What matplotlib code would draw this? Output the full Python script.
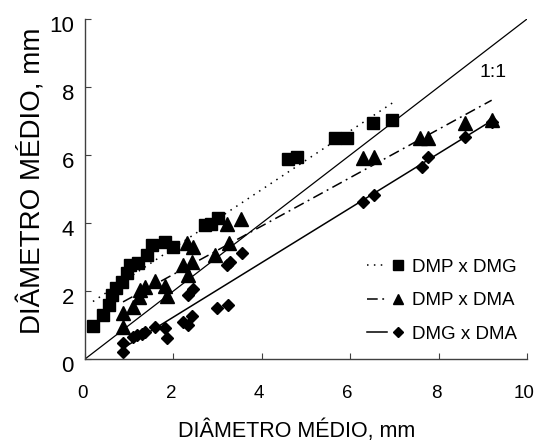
import numpy as np
import matplotlib
matplotlib.use("Agg")
import matplotlib.pyplot as plt
import matplotlib.transforms as mtransforms
from matplotlib.legend_handler import HandlerTuple

plt.rcParams['font.family'] = ['Liberation Sans', 'DejaVu Sans']

# DMP x DMG (squares)
dmg_x = [0.18, 0.41, 0.55, 0.60, 0.70, 0.83, 0.95, 1.02, 1.20, 1.40, 1.52, 1.81, 2.00,
         2.71, 2.85, 3.00, 4.60, 4.80, 5.66, 5.93, 6.52, 6.95]
dmg_y = [0.97, 1.30, 1.60, 1.88, 2.10, 2.27, 2.52, 2.77, 2.82, 3.06, 3.35, 3.44, 3.30,
         3.94, 3.98, 4.14, 5.88, 5.95, 6.50, 6.50, 6.94, 7.03]

# DMP x DMA (triangles)
dma_x = [0.86, 0.86, 1.09, 1.22, 1.24, 1.36, 1.58, 1.80, 1.86, 2.22, 2.30, 2.33, 2.42,
         2.44, 2.94, 3.21, 3.26, 3.52, 6.29, 6.54, 7.58, 7.76, 8.60, 9.20]
dma_y = [0.95, 1.35, 1.53, 1.83, 2.03, 2.12, 2.30, 2.15, 1.86, 2.76, 3.40, 2.47, 2.85,
         3.30, 3.06, 3.97, 3.41, 4.12, 5.91, 5.95, 6.50, 6.50, 6.94, 7.03]

# DMG x DMA (diamonds)
gda_x = [0.86, 0.86, 1.09, 1.17, 1.29, 1.36, 1.58, 1.81, 1.86, 2.22, 2.33, 2.42, 2.33,
         2.44, 2.99, 3.24, 3.21, 3.28, 3.55, 6.29, 6.54, 7.62, 7.76, 8.60, 9.20]
gda_y = [0.20, 0.47, 0.65, 0.70, 0.73, 0.80, 0.95, 0.90, 0.62, 1.08, 1.00, 1.26, 1.88,
         2.05, 1.50, 1.59, 2.76, 2.85, 3.12, 4.62, 4.82, 5.65, 5.94, 6.53, 6.97]

labels = ['DMP x DMG', 'DMP x DMA', 'DMG x DMA']
ticks = [0, 2, 4, 6, 8, 10]

fig = plt.figure(figsize=(5.38, 4.44), dpi=100)
ax = fig.add_axes([0.158, 0.1914, 0.8216, 0.7658])

# 1:1 line
ax.plot([0, 10], [0, 10], color='black', lw=0.9)
ax.text(9.23, 8.44, '1:1', fontsize=14, ha='center', va='center')

series = [
    (dmg_x, dmg_y, 's', 8.5, (0, (1, 3.5))),
    (dma_x, dma_y, '^', 9.5, (0, (7, 3, 1.2, 3))),
    (gda_x, gda_y, 'D', 6.5, '-'),
]
handles = []
for x, y, mk, ms, ls in series:
    x = np.array(x)
    y = np.array(y)
    sc, = ax.plot(x, y, linestyle='none', marker=mk, ms=ms, color='black')
    # linear trend line over the range of the data
    k, b = np.polyfit(x, y, 1)
    xs = np.array([x.min(), x.max()])
    ln, = ax.plot(xs, k * xs + b, color='black', lw=1.1, linestyle=ls)
    handles.append((ln, sc))

leg = ax.legend(handles, labels, handler_map={tuple: HandlerTuple(ndivide=None, pad=0)},
                loc='lower right', bbox_to_anchor=(0.977, 0.047), frameon=False,
                fontsize=13.5, handlelength=2.2, handletextpad=0.2, labelspacing=0.88,
                markerscale=0.8, borderaxespad=0, borderpad=0)

ax.set_xlim(0, 10)
ax.set_ylim(0, 10)
ax.set_xticks(ticks)
ax.set_yticks(ticks)
ax.spines['top'].set_visible(False)
ax.spines['right'].set_visible(False)
for s in ['left', 'bottom']:
    ax.spines[s].set_color('#404040')
    ax.spines[s].set_linewidth(1.0)
ax.tick_params(axis='both', direction='in', length=4.5, color='#404040')
ax.tick_params(axis='x', pad=19, labelsize=13.5)
ax.tick_params(axis='y', pad=8, labelsize=16)

# small offsets of the tick labels, as in the original
for lab in ax.get_yticklabels():
    lab.set_transform(lab.get_transform() + mtransforms.ScaledTranslation(0, -0.05, fig.dpi_scale_trans))
for lab in ax.get_xticklabels():
    lab.set_transform(lab.get_transform() + mtransforms.ScaledTranslation(-0.025, 0, fig.dpi_scale_trans))

fig.text(0.552, 0.03, 'DIÂMETRO MÉDIO, mm', ha='center', va='center', fontsize=15.5)
fig.text(0.06, 0.594, 'DIÂMETRO MÉDIO, mm', ha='center', va='center', fontsize=20,
         rotation=90)

fig.savefig('out.png', dpi=100)
